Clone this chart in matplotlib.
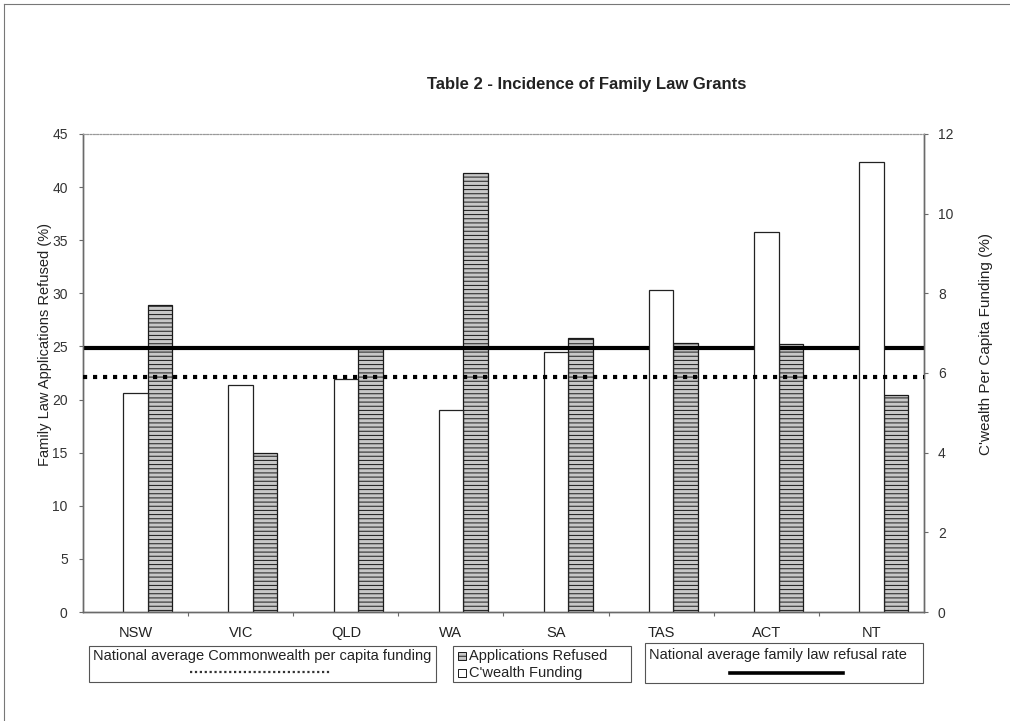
import numpy as np
import matplotlib
matplotlib.use("Agg")
import matplotlib.pyplot as plt
from matplotlib.lines import Line2D
from matplotlib.patches import Rectangle

plt.rcParams['font.family'] = ['Liberation Sans', 'DejaVu Sans']
plt.rcParams['hatch.linewidth'] = 0.7

# Data
states = ["NSW", "VIC", "QLD", "WA", "SA", "TAS", "ACT", "NT"]
applications_refused = [28.9, 15.0, 24.8, 41.3, 25.8, 25.3, 25.2, 20.4]   # left axis, %
cwealth_funding = [5.50, 5.70, 5.85, 5.07, 6.53, 8.08, 9.54, 11.30]       # right axis, %
national_refusal_rate = 24.9      # left axis, %
national_funding_avg = 5.9        # right axis, %

W, H = 1010, 721
fig = plt.figure(figsize=(W / 100, H / 100), dpi=100)
fig.patch.set_facecolor("white")

ax_l, ax_r, ax_t, ax_b = 83, 924, 134, 612
ax = fig.add_axes([ax_l / W, (H - ax_b) / H, (ax_r - ax_l) / W, (ax_b - ax_t) / H])
ax2 = ax.twinx()

x = np.arange(len(states))
w = 0.233
text_col = "#222222"
axis_col = "#6a6a6a"

# Bars
ax2.bar(x, cwealth_funding, width=w, facecolor="white", edgecolor="#222222",
        linewidth=0.9, zorder=2)
ax.bar(x + w, applications_refused, width=w, facecolor="#c8c8c8",
       edgecolor="#1a1a1a", linewidth=0.9, hatch="----", zorder=2)

# Reference lines
ax.axhline(national_refusal_rate, color="black", linewidth=3.0, zorder=5)
ax2.axhline(national_funding_avg, color="black", linewidth=3.0,
            linestyle=(0, (1.0, 1.4)), zorder=5)

# Axes limits and ticks
ax.set_xlim(-0.5, len(states) - 0.5)
ax.set_ylim(0, 45)
ax.set_yticks(np.arange(0, 46, 5))
ax2.set_ylim(0, 12)
ax2.set_yticks(np.arange(0, 13, 2))

ax.set_xticks(x)
ax.set_xticklabels(states)
ax.set_xticks(np.arange(0.5, len(states) - 0.5, 1), minor=True)
ax.tick_params(axis="x", which="major", length=0, pad=10, labelsize=10.5,
               labelcolor=text_col)
ax.tick_params(axis="x", which="minor", length=3, width=0.8, color=axis_col,
               direction="out")
ax.tick_params(axis="y", length=3, width=0.8, color=axis_col, pad=8,
               labelsize=10, labelcolor="#333333", direction="out")
ax2.tick_params(axis="y", length=3, width=0.8, color=axis_col, pad=7,
                labelsize=10, labelcolor="#333333", direction="out")

for a in (ax, ax2):
    for side in ("left", "right", "bottom"):
        a.spines[side].set_color(axis_col)
        a.spines[side].set_linewidth(1.0)
    a.spines["top"].set_color("#999999")
    a.spines["top"].set_linewidth(0.8)
    a.spines["top"].set_linestyle((0, (1.5, 1.5)))

ax.set_ylabel("Family Law Applications Refused (%)", fontsize=10.5,
              color=text_col)
ax.yaxis.set_label_coords(-0.037, 0.56)
ax2.set_ylabel("C'wealth Per Capita Funding (%)", fontsize=11,
               color=text_col)
ax2.yaxis.set_label_coords(1.065, 0.56)

# Title
fig.text(587 / W, 1 - 85 / H, "Table 2 - Incidence of Family Law Grants",
         ha="center", va="center", fontsize=12, fontweight="bold", color=text_col)

# Outer chart border
fig.add_artist(Line2D([4 / W, 1.0], [1 - 4 / H, 1 - 4 / H],
                      transform=fig.transFigure, color="#777777", linewidth=0.8))
fig.add_artist(Line2D([4 / W, 4 / W], [0.0, 1 - 4 / H],
                      transform=fig.transFigure, color="#777777", linewidth=0.8))


def box(x0, y0, x1, y1):
    fig.add_artist(Rectangle((x0 / W, 1 - y1 / H), (x1 - x0) / W, (y1 - y0) / H,
                             transform=fig.transFigure, facecolor="white",
                             edgecolor="#555555", linewidth=0.8))


# Legend box: national funding average
box(89, 646, 436, 682)
fig.text(93 / W, 1 - 656 / H, "National average Commonwealth per capita funding",
         ha="left", va="center", fontsize=10.5, color=text_col)
fig.add_artist(Line2D([190 / W, 330 / W], [1 - 672 / H, 1 - 672 / H],
                      transform=fig.transFigure, color="#333333", linewidth=1.6,
                      linestyle=(0, (1, 1.2))))

# Legend box: series
box(453, 646, 631, 682)
fig.add_artist(Rectangle((458 / W, 1 - 660 / H), 8 / W, 8 / H,
                         transform=fig.transFigure, facecolor="#c8c8c8",
                         edgecolor="#1a1a1a", linewidth=0.7, hatch="----"))
fig.text(469 / W, 1 - 656 / H, "Applications Refused", ha="left", va="center",
         fontsize=10.5, color=text_col)
fig.add_artist(Rectangle((458 / W, 1 - 677 / H), 8 / W, 8 / H,
                         transform=fig.transFigure, facecolor="white",
                         edgecolor="#1a1a1a", linewidth=0.7))
fig.text(469 / W, 1 - 673 / H, "C'wealth Funding", ha="left", va="center",
         fontsize=10.5, color=text_col)

# Legend box: national refusal rate
box(645, 643, 923, 683)
fig.text(649 / W, 1 - 655 / H, "National average family law refusal rate",
         ha="left", va="center", fontsize=10.5, color=text_col)
fig.add_artist(Line2D([730 / W, 843 / W], [1 - 673 / H, 1 - 673 / H],
                      transform=fig.transFigure, color="black", linewidth=2.6))

fig.savefig("out.png", dpi=100, facecolor="white")
